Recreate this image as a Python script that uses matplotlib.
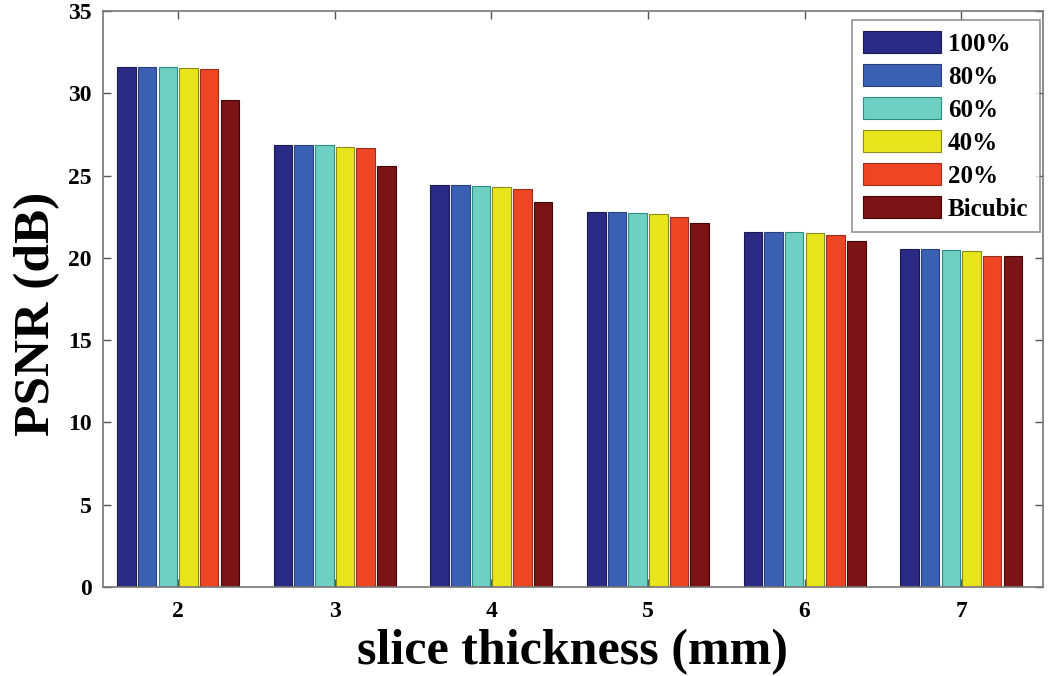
import matplotlib
matplotlib.use("Agg")
import matplotlib.pyplot as plt
import numpy as np

thickness = [2, 3, 4, 5, 6, 7]
series_names = ["100%", "80%", "60%", "40%", "20%", "Bicubic"]
psnr_100 = [31.6, 26.85, 24.40, 22.80, 21.60, 20.55]
psnr_80 = [31.6, 26.85, 24.40, 22.80, 21.60, 20.55]
psnr_60 = [31.6, 26.83, 24.35, 22.75, 21.55, 20.50]
psnr_40 = [31.55, 26.75, 24.30, 22.65, 21.50, 20.40]
psnr_20 = [31.5, 26.70, 24.20, 22.50, 21.40, 20.10]
psnr_bicubic = [29.6, 25.60, 23.40, 22.10, 21.05, 20.10]
colors = ["#2b2b86", "#3b5fb2", "#6fcfc2", "#e9e51c", "#ee4524", "#7b1416"]
edge_colors = ["#1a1a50", "#2a3f80", "#2a8f80", "#8a8a20", "#9a3020", "#400808"]

plt.rcParams['font.family'] = ['Liberation Serif', 'DejaVu Serif']
plt.rcParams['font.weight'] = 'bold'

fig = plt.figure(figsize=(10.5, 6.76), dpi=100)
ax = fig.add_axes([0.098, 0.1317, 0.895, 0.852])

all_series = [psnr_100, psnr_80, psnr_60, psnr_40, psnr_20, psnr_bicubic]
x = np.array(thickness, dtype=float)
pitch = 0.132
width = 0.118
for i, (vals, name) in enumerate(zip(all_series, series_names)):
    offs = (i - 2.5) * pitch
    ax.bar(x + offs, vals, width=width, color=colors[i], edgecolor=edge_colors[i],
           linewidth=0.8, label=name, zorder=2)

ax.set_xlim(1.52, 7.52)
ax.set_ylim(0, 35)
ax.set_xticks(thickness)
ax.set_yticks(np.arange(0, 36, 5))
ax.tick_params(direction='in', length=6, width=1, colors='#555555', top=True, right=True,
               labelsize=17, labelcolor='black')
ax.tick_params(axis='x', pad=10)
ax.tick_params(axis='y', pad=8)
for lab in ax.get_xticklabels() + ax.get_yticklabels():
    lab.set_fontweight('bold')
for sp in ax.spines.values():
    sp.set_color('#777777')
    sp.set_linewidth(1.2)

ax.set_xlabel("slice thickness (mm)", fontsize=36, fontweight='bold', labelpad=5)
ax.set_ylabel("PSNR (dB)", fontsize=37, fontweight='bold')
ax.yaxis.set_label_coords(-0.045, 0.475)

leg = ax.legend(loc='upper right', bbox_to_anchor=(0.997, 0.985),
                prop={'weight': 'bold', 'size': 18},
                handlelength=3.1, handleheight=1.0, labelspacing=0.33,
                borderaxespad=0.0, fancybox=False, edgecolor='#777777',
                borderpad=0.45, handletextpad=0.3)
leg.get_frame().set_linewidth(1.2)

fig.savefig("out.png", dpi=100)
